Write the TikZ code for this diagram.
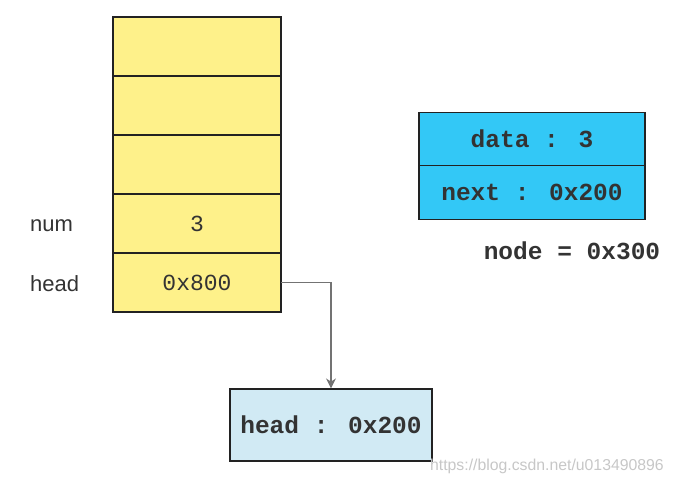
\documentclass[tikz,border=0pt]{standalone}
\usepackage{fontspec}
\usetikzlibrary{arrows.meta}
\newfontfamily\codefont{Liberation Mono}
\newfontfamily\labelfont{Liberation Sans}
\definecolor{cellyellow}{HTML}{FEF18A}
\definecolor{nodeblue}{HTML}{33C8F6}
\definecolor{ptrblue}{HTML}{D1EAF4}
\definecolor{edge}{HTML}{222222}
\definecolor{ink}{HTML}{333333}
\begin{document}
\begin{tikzpicture}[x=1pt,y=-1pt,
    cell/.style={draw=edge,line width=1.2pt,fill=cellyellow,minimum width=168pt,minimum height=59pt,
        inner sep=0pt,outer sep=0pt,text=ink,font=\codefont\fontsize{23}{23}\selectfont},
    field/.style={draw=edge,line width=1.2pt,fill=nodeblue,minimum width=226pt,minimum height=53.5pt,
        inner sep=0pt,outer sep=0pt,text=ink,font=\codefont\bfseries\fontsize{24.5}{24.5}\selectfont},
    varname/.style={anchor=west,inner sep=0pt,text=ink,font=\labelfont\fontsize{22}{22}\selectfont}]
    \useasboundingbox (0,0) rectangle (673,484);
    % stack
    \foreach \i/\val in {1/{},2/{},3/{},4/3,5/0x800}
    {
        \node[cell] (cell\i) at (197,{-12.5+59*\i}) {\val};
    };
    \node[varname] (numlabel) at (30,226) {num};
    \node[varname] (headlabel) at (30,284) {head};
    % the new node
    \node[field] (data) at (532,139) {data : 3};
    \node[field] (next) at (532,192.5) {next : 0x200};
    \node[text=ink,font=\codefont\bfseries\fontsize{24.5}{24.5}\selectfont,inner sep=0pt] (addr) at (572,251) {node = 0x300};
    % pointer copy
    \node[draw=edge,line width=1.2pt,fill=ptrblue,minimum width=202pt,minimum height=72pt,inner sep=0pt,
        text=ink,font=\codefont\bfseries\fontsize{24.5}{24.5}\selectfont] (headcopy) at (331,425) {head : 0x200};
    \draw[draw=black!55,line width=1.3pt,-{Stealth[length=10pt,width=10pt]}] (cell5.east) -| (headcopy.north);
    \node[anchor=east,inner sep=0pt,text=black!22,font=\labelfont\fontsize{15.8}{15.8}\selectfont] (mark) at (664,466) {https://blog.csdn.net/u013490896};
\end{tikzpicture}
\end{document}
